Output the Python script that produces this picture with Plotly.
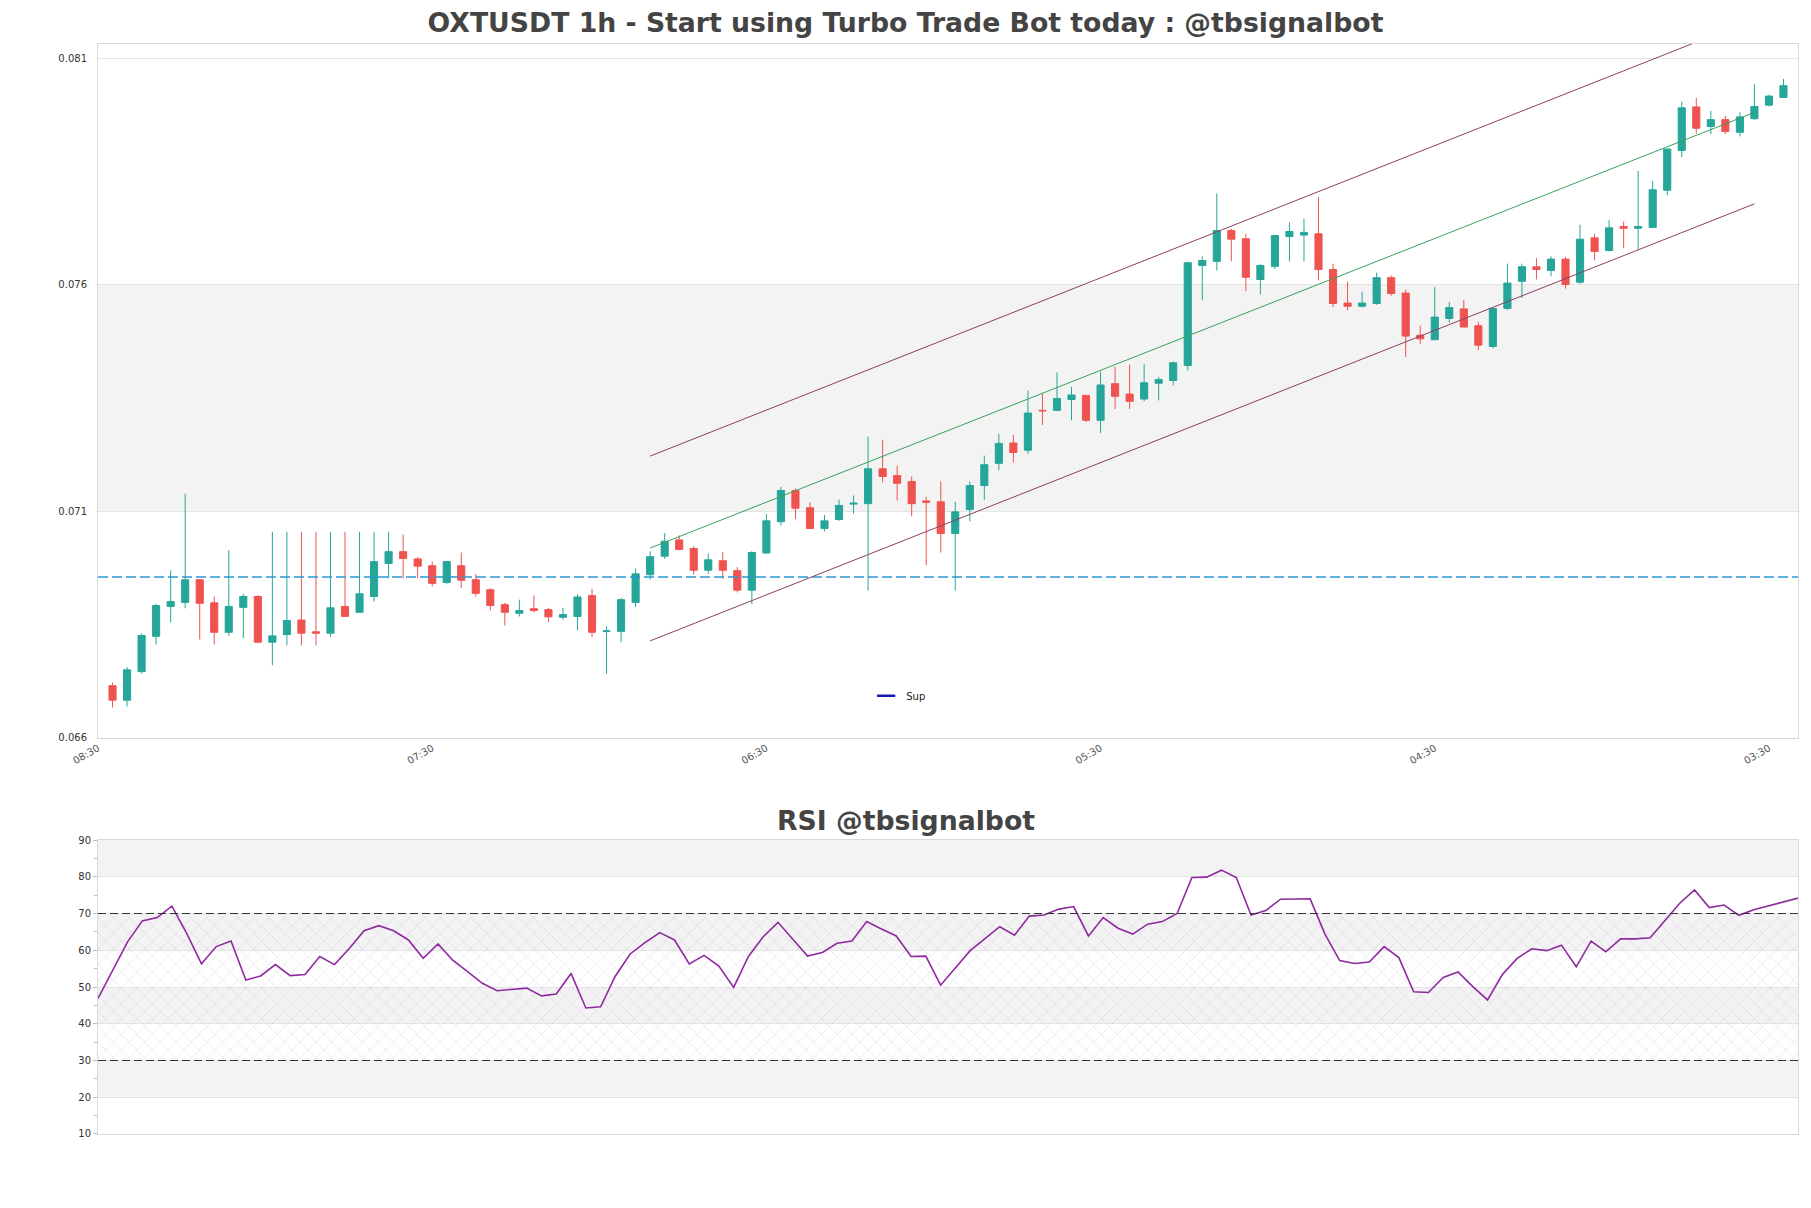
import plotly.graph_objects as go

# x axis tick labels (hours), placed on candle index positions
tick_pos = [-1, 22, 45, 68, 91, 114]
tick_text = ['08:30', '07:30', '06:30', '05:30', '04:30', '03:30']

opens = [0.06715, 0.06683, 0.06746, 0.06824, 0.06890, 0.06899, 0.06949, 0.06898, 0.06833, 0.06888,
         0.06912, 0.06811, 0.06828, 0.06860, 0.06834, 0.06831, 0.06890, 0.06877, 0.06912, 0.06985,
         0.07011, 0.06995, 0.06980, 0.06943, 0.06980, 0.06949, 0.06927, 0.06894, 0.06875, 0.06885,
         0.06883, 0.06866, 0.06868, 0.06914, 0.06835, 0.06835, 0.06899, 0.06960, 0.07001, 0.07037,
         0.07018, 0.06970, 0.06991, 0.06969, 0.06926, 0.07008, 0.07077, 0.07146, 0.07108, 0.07062,
         0.07082, 0.07116, 0.07117, 0.07194, 0.07179, 0.07166, 0.07123, 0.07121, 0.07051, 0.07104,
         0.07157, 0.07206, 0.07251, 0.07235, 0.07323, 0.07323, 0.07347, 0.07356, 0.07301, 0.07382,
         0.07359, 0.07348, 0.07383, 0.07389, 0.07422, 0.07643, 0.07652, 0.07720, 0.07702, 0.07612,
         0.07641, 0.07707, 0.07710, 0.07713, 0.07634, 0.07560, 0.07553, 0.07559, 0.07616, 0.07582,
         0.07489, 0.07479, 0.07526, 0.07547, 0.07510, 0.07464, 0.07548, 0.07608, 0.07640, 0.07632,
         0.07657, 0.07606, 0.07704, 0.07676, 0.07729, 0.07725, 0.07727, 0.07809, 0.07897, 0.07993,
         0.07950, 0.07965, 0.07937, 0.07967, 0.07997, 0.08014]
highs = [0.06722, 0.06756, 0.06830, 0.06896, 0.06970, 0.07139, 0.06950, 0.06912, 0.07014, 0.06918,
         0.06915, 0.07055, 0.07055, 0.07055, 0.07055, 0.07055, 0.07055, 0.07055, 0.07055, 0.07055,
         0.07049, 0.06999, 0.06989, 0.06989, 0.07009, 0.06962, 0.06930, 0.06898, 0.06905, 0.06914,
         0.06887, 0.06887, 0.06917, 0.06929, 0.06846, 0.06909, 0.06974, 0.07012, 0.07052, 0.07047,
         0.07023, 0.07007, 0.07010, 0.06977, 0.07012, 0.07094, 0.07154, 0.07151, 0.07120, 0.07092,
         0.07126, 0.07135, 0.07265, 0.07258, 0.07201, 0.07177, 0.07132, 0.07166, 0.07121, 0.07166,
         0.07223, 0.07271, 0.07269, 0.07367, 0.07361, 0.07407, 0.07375, 0.07357, 0.07409, 0.07419,
         0.07424, 0.07426, 0.07397, 0.07431, 0.07651, 0.07663, 0.07802, 0.07724, 0.07713, 0.07646,
         0.07710, 0.07738, 0.07746, 0.07794, 0.07647, 0.07607, 0.07585, 0.07627, 0.07621, 0.07590,
         0.07510, 0.07595, 0.07562, 0.07567, 0.07519, 0.07549, 0.07647, 0.07647, 0.07659, 0.07663,
         0.07662, 0.07733, 0.07713, 0.07743, 0.07740, 0.07852, 0.07830, 0.07900, 0.08005, 0.08013,
         0.07984, 0.07973, 0.07981, 0.08043, 0.08020, 0.08055]
lows = [0.06667, 0.06669, 0.06742, 0.06806, 0.06855, 0.06886, 0.06817, 0.06806, 0.06825, 0.06820,
        0.06809, 0.06760, 0.06804, 0.06804, 0.06804, 0.06823, 0.06867, 0.06876, 0.06901, 0.06952,
        0.06952, 0.06952, 0.06934, 0.06940, 0.06931, 0.06912, 0.06881, 0.06848, 0.06868, 0.06877,
        0.06855, 0.06861, 0.06837, 0.06822, 0.06741, 0.06811, 0.06889, 0.06949, 0.06995, 0.07014,
        0.06960, 0.06962, 0.06951, 0.06921, 0.06895, 0.07007, 0.07069, 0.07083, 0.07061, 0.07056,
        0.07079, 0.07095, 0.06925, 0.07164, 0.07124, 0.07089, 0.06981, 0.07009, 0.06925, 0.07078,
        0.07126, 0.07191, 0.07208, 0.07227, 0.07291, 0.07321, 0.07301, 0.07297, 0.07273, 0.07326,
        0.07326, 0.07343, 0.07345, 0.07378, 0.07411, 0.07566, 0.07632, 0.07652, 0.07586, 0.07579,
        0.07635, 0.07652, 0.07652, 0.07610, 0.07551, 0.07544, 0.07550, 0.07556, 0.07576, 0.07441,
        0.07470, 0.07479, 0.07517, 0.07507, 0.07456, 0.07460, 0.07545, 0.07571, 0.07612, 0.07619,
        0.07592, 0.07602, 0.07654, 0.07674, 0.07681, 0.07678, 0.07727, 0.07798, 0.07882, 0.07934,
        0.07933, 0.07933, 0.07928, 0.07965, 0.07994, 0.08014]
closes = [0.06683, 0.06750, 0.06826, 0.06892, 0.06901, 0.06949, 0.06897, 0.06833, 0.06890, 0.06912,
          0.06811, 0.06825, 0.06859, 0.06831, 0.06831, 0.06887, 0.06868, 0.06918, 0.06989, 0.07011,
          0.06996, 0.06979, 0.06941, 0.06989, 0.06948, 0.06919, 0.06892, 0.06877, 0.06881, 0.06881,
          0.06867, 0.06872, 0.06911, 0.06833, 0.06836, 0.06905, 0.06962, 0.07000, 0.07034, 0.07016,
          0.06970, 0.06993, 0.06970, 0.06926, 0.07009, 0.07079, 0.07146, 0.07107, 0.07062, 0.07079,
          0.07113, 0.07118, 0.07194, 0.07177, 0.07162, 0.07117, 0.07120, 0.07051, 0.07099, 0.07157,
          0.07203, 0.07250, 0.07230, 0.07317, 0.07322, 0.07349, 0.07357, 0.07301, 0.07379, 0.07354,
          0.07343, 0.07384, 0.07391, 0.07428, 0.07649, 0.07654, 0.07720, 0.07701, 0.07617, 0.07643,
          0.07709, 0.07718, 0.07716, 0.07634, 0.07559, 0.07553, 0.07560, 0.07616, 0.07581, 0.07487,
          0.07481, 0.07529, 0.07550, 0.07507, 0.07467, 0.07548, 0.07604, 0.07640, 0.07634, 0.07657,
          0.07601, 0.07701, 0.07674, 0.07726, 0.07725, 0.07729, 0.07810, 0.07900, 0.07991, 0.07946,
          0.07965, 0.07939, 0.07971, 0.07994, 0.08017, 0.08040]

rsi = [46.9, 54.6, 62.3, 68.0, 68.9, 72.0, 64.6, 56.3, 61.0, 62.5,
       51.9, 53.0, 56.1, 53.1, 53.4, 58.3, 56.1, 60.5, 65.3, 66.7,
       65.3, 62.8, 57.8, 61.7, 57.3, 54.2, 51.0, 49.0, 49.4, 49.7,
       47.6, 48.1, 53.7, 44.3, 44.6, 53.0, 59.0, 62.1, 64.8, 62.8,
       56.3, 58.6, 55.7, 49.9, 58.3, 63.7, 67.6, 63.0, 58.4, 59.4,
       61.9, 62.5, 67.8, 65.8, 63.9, 58.3, 58.4, 50.5, 55.3, 59.9,
       63.2, 66.4, 64.1, 69.3, 69.6, 71.2, 71.9, 63.9, 68.9, 66.0,
       64.4, 67.1, 67.8, 70.0, 79.8, 79.9, 81.8, 79.8, 69.6, 70.8,
       73.9, 74.0, 74.0, 64.4, 57.2, 56.4, 56.8, 61.0, 58.0, 48.7,
       48.5, 52.6, 54.1, 50.1, 46.5, 53.4, 57.8, 60.4, 59.9, 61.4,
       55.5, 62.5, 59.6, 63.1, 63.1, 63.4, 68.0, 72.8, 76.4, 71.6,
       72.3, 69.5, 71.0, 72.0, 73.1, 74.2]

sup_level = 0.06955

# regression channel end points (candle index, price)
chan_x = [37, 113]
chan_up = [0.07222, 0.08187]
chan_mid = [0.07019, 0.07981]
chan_low = [0.06814, 0.07779]

idx = list(range(len(opens)))
n = len(opens)

fig = go.Figure()

fig.add_trace(go.Candlestick(
    x=idx, open=opens, high=highs, low=lows, close=closes,
    increasing=dict(line=dict(color='#26a69a', width=1), fillcolor='#26a69a'),
    decreasing=dict(line=dict(color='#ef5350', width=1), fillcolor='#ef5350'),
    whiskerwidth=0, showlegend=False, xaxis='x', yaxis='y'))

fig.add_trace(go.Scatter(
    x=[-1, n], y=[sup_level, sup_level], mode='lines',
    line=dict(color='#2a98d4', width=1.3, dash='10px,4px'),
    showlegend=False, hoverinfo='skip', xaxis='x', yaxis='y'))

for ys, col in [(chan_up, '#8c4060'), (chan_low, '#8c4060'), (chan_mid, '#35a35a')]:
    fig.add_trace(go.Scatter(
        x=chan_x, y=ys, mode='lines', line=dict(color=col, width=1),
        showlegend=False, hoverinfo='skip', xaxis='x', yaxis='y'))

# legend entry
fig.add_trace(go.Scatter(
    x=[None], y=[None], mode='markers', name='Sup',
    marker=dict(symbol='line-ew-open', size=13, color='#1a1ab0',
                line=dict(width=2.5, color='#1a1ab0')),
    xaxis='x', yaxis='y'))

# RSI hatch between 30 and 70
fig.add_trace(go.Scatter(
    x=[0, n - 1, n - 1, 0, 0], y=[30, 30, 70, 70, 30], mode='lines',
    line=dict(width=0), fill='toself', fillcolor='rgba(0,0,0,0)',
    fillpattern=dict(shape='x', fgcolor='rgba(165,135,190,0.6)', bgcolor='rgba(0,0,0,0)',
                     size=11, solidity=0.1),
    showlegend=False, hoverinfo='skip', xaxis='x2', yaxis='y2'))

fig.add_trace(go.Scatter(
    x=idx, y=rsi, mode='lines', line=dict(color='#8e2a9e', width=1.6),
    showlegend=False, xaxis='x2', yaxis='y2'))

shapes = [dict(type='rect', xref='x domain', yref='y', x0=0, x1=1, y0=0.071, y1=0.076,
               fillcolor='#f3f3f3', line=dict(width=0), layer='below')]
for lo in [20, 40, 60, 80]:
    shapes.append(dict(type='rect', xref='x2 domain', yref='y2', x0=0, x1=1, y0=lo, y1=lo + 10,
                       fillcolor='#f3f3f3', line=dict(width=0), layer='below'))
for lvl in [30, 70]:
    shapes.append(dict(type='line', xref='x2 domain', yref='y2', x0=0, x1=1, y0=lvl, y1=lvl,
                       line=dict(color='#333333', width=1.2, dash='8px,4px')))

axis_line = '#d9d9d9'
grid = '#e4e4e4'

# page has an 8px body margin, so the figure is 16px smaller than the window
fig.update_layout(
    width=1795, height=1192,
    margin=dict(l=90, r=5, t=36, b=66),
    paper_bgcolor='white', plot_bgcolor='white',
    font=dict(family='DejaVu Sans', size=10, color='#444444'),
    title=dict(text='<b>OXTUSDT 1h - Start using Turbo Trade Bot today : @tbsignalbot</b>',
               x=0.5, xref='container', y=0.988, yanchor='middle',
               font=dict(family='DejaVu Sans', size=26.7, color='#444444')),
    shapes=shapes,
    annotations=[dict(text='<b>RSI @tbsignalbot</b>', xref='paper', yref='paper',
                      x=0.475, y=0.288, xanchor='center', yanchor='middle', showarrow=False,
                      font=dict(family='DejaVu Sans', size=26.7, color='#444444'))],
    legend=dict(x=0.471, y=0.402, xanchor='center', yanchor='middle',
                bgcolor='rgba(0,0,0,0)', font=dict(size=10, color='#222222')),
    xaxis=dict(domain=[0, 1], anchor='y', range=[-1, n], tickvals=tick_pos, ticktext=tick_text,
               tickangle=-30, showgrid=False, zeroline=False, showline=True, mirror=True,
               linecolor=axis_line, rangeslider=dict(visible=False),
               tickfont=dict(size=10, color='#555555')),
    yaxis=dict(domain=[0.3635, 1], anchor='x', range=[0.066, 0.08132], tick0=0.066, dtick=0.005,
               gridcolor=grid, zeroline=False, showline=True, mirror=True, linecolor=axis_line,
               ticklabelstandoff=8, tickfont=dict(size=10, color='#333333')),
    xaxis2=dict(domain=[0, 1], anchor='y2', range=[0, n - 1], showticklabels=False,
                showgrid=False, zeroline=False, showline=True, mirror=True, linecolor=axis_line),
    yaxis2=dict(domain=[0, 0.2697], anchor='x2', range=[10, 90], tick0=10, dtick=10,
                gridcolor=grid, zeroline=False, showline=True, mirror=True, linecolor=axis_line,
                ticks='outside', ticklen=4, tickcolor='#bbbbbb',
                minor=dict(dtick=5, ticks='outside', ticklen=3, tickcolor='#bbbbbb', showgrid=False),
                tickfont=dict(size=10, color='#333333')),
)

fig.write_html("out.html")
